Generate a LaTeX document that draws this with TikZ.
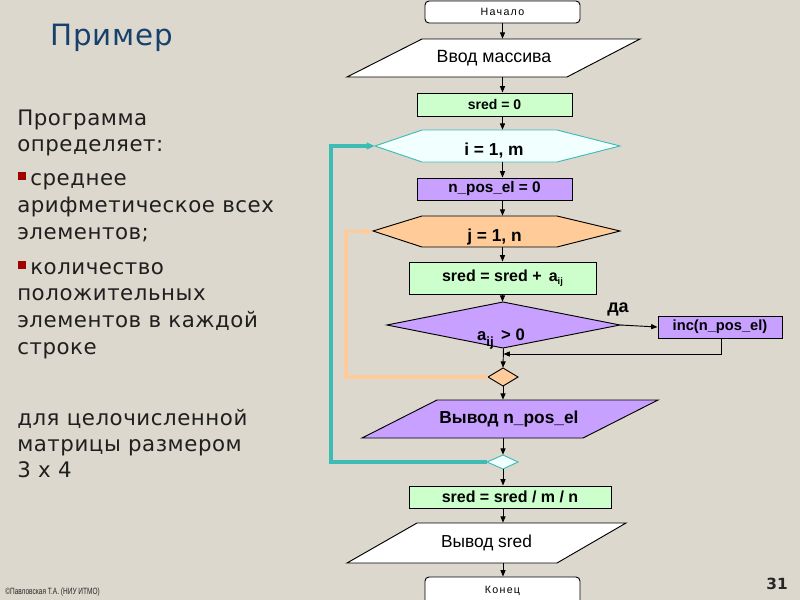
\documentclass[tikz,border=0pt]{standalone}
\usepackage{fontspec}
\setmainfont{DejaVu Sans}
\newfontfamily\bodyfont[LetterSpace=2.5]{DejaVu Sans}
\newfontfamily\titlefont[LetterSpace=3]{DejaVu Sans}
\newfontfamily\arial{Liberation Sans}
\newfontfamily\arialsp[LetterSpace=12]{Liberation Sans}
\usetikzlibrary{arrows.meta,calc}
\definecolor{paper}{HTML}{DDD8CD}
\definecolor{titleblue}{HTML}{17406D}
\definecolor{bulletred}{HTML}{A00000}
\definecolor{flgreen}{HTML}{CCFFCC}
\definecolor{flpurple}{HTML}{C8A0FF}
\definecolor{florange}{HTML}{FFCC99}
\definecolor{flcyan}{HTML}{3CBCB4}
\definecolor{flcyanfill}{HTML}{F2FFFF}
\pgfdeclarelayer{back}
\pgfdeclarelayer{shapes}
\pgfsetlayers{back,shapes,main}
\tikzset{
  body/.style={anchor=base west, inner sep=0, font=\bodyfont\fontsize{16}{19}\selectfont, text=black!88},
  boxnode/.style={draw=black, line width=0.7pt, inner sep=0, font=\arial\bfseries},
  termnode/.style={draw=black, line width=0.7pt, fill=white, rounded corners=3pt, inner sep=0, font=\arialsp\fontsize{8}{9}\selectfont},
  txtnode/.style={inner sep=0, font=\arial\bfseries},
  shapeline/.style={draw=black, line width=0.7pt},
  arr/.style={draw=black, line width=0.7pt, -{Triangle[length=4.8pt,width=3.8pt]}},
  loopc/.style={draw=flcyan, line width=2.3pt, -{Triangle[length=6pt,width=5pt]}},
  loopo/.style={draw=florange, line width=2.3pt, -{Triangle[length=6pt,width=5pt]}},
}
\begin{document}
\begin{tikzpicture}[x=0.75pt,y=-0.75pt]
\begin{pgfonlayer}{back}
\fill[paper] (0,0) rectangle (800,600);
\end{pgfonlayer}
\useasboundingbox (0,0) rectangle (800,600);

% ---------- left text ----------
\node[anchor=base west, inner sep=0, font=\titlefont\fontsize{22}{25}\selectfont, text=titleblue] (title) at (50,45) {Пример};
\node[body] (l1) at (17,125) {Программа};
\node[body] (l2) at (17,151) {определяет:};
\fill[bulletred] (18,172) rectangle (26,180);
\node[body] (l3) at (30,185) {среднее};
\node[body] (l4) at (17,212) {арифметическое всех};
\node[body] (l5) at (17,239) {элементов;};
\fill[bulletred] (18,261) rectangle (26,269);
\node[body] (l6) at (30,274) {количество};
\node[body] (l7) at (17,300) {положительных};
\node[body] (l8) at (17,327) {элементов в каждой};
\node[body] (l9) at (17,354) {строке};
\node[body] (l10) at (17,425) {для целочисленной};
\node[body] (l11) at (17,451) {матрицы размером};
\node[body] (l12) at (17,477) {3 х 4};

\node[anchor=base west, inner sep=0, font=\arial\fontsize{6.8}{8}\selectfont, text=black!85] (copy) at (5,594) {\scalebox{0.72}[1]{©Павловская Т.А. (НИУ ИТМО)}};
\node[inner sep=0, font=\bfseries\fontsize{11.5}{12}\selectfont, text=black!85] (pnum) at (777,584) {31};

% ---------- flowchart ----------
\coordinate (col) at (502.5,0);

\node[termnode, minimum width=155*0.75pt, minimum height=22*0.75pt] (start) at (502.5,12) {Начало};

\begin{pgfonlayer}{shapes}
\filldraw[shapeline, fill=white] (347,77) -- (422,39) -- (640,39) -- (567,77) -- cycle;
\filldraw[draw=flcyan, line width=0.7pt, fill=flcyanfill] (375,146) -- (422,130) -- (557,130) -- (620,146) -- (557,162) -- (422,162) -- cycle;
\filldraw[shapeline, fill=florange] (373,231) -- (422,216) -- (557,216) -- (620,231) -- (557,247) -- (422,247) -- cycle;
\filldraw[shapeline, fill=flpurple] (387,325) -- (503,302) -- (620,325) -- (503,348) -- cycle;
\filldraw[shapeline, fill=florange] (488,377) -- (503,368) -- (518,377) -- (503,386) -- cycle;
\filldraw[shapeline, fill=flpurple] (362,438) -- (437,400) -- (658,400) -- (583,438) -- cycle;
\filldraw[draw=flcyan, line width=0.7pt, fill=flcyanfill] (487,462) -- (503,455) -- (518,462) -- (503,469) -- cycle;
\filldraw[shapeline, fill=white] (347,563) -- (417,523) -- (626,523) -- (557,563) -- cycle;
\end{pgfonlayer}

\node[inner sep=0, minimum width=200*0.75pt, minimum height=38*0.75pt, font=\arial\fontsize{13.3}{15}\selectfont] (input) at (494,58) {Ввод массива};
\node[boxnode, fill=flgreen, minimum width=155*0.75pt, minimum height=23*0.75pt, font=\arial\bfseries\fontsize{10.5}{12}\selectfont] (sred0) at (494.5,104.5) {sred = 0};
\node[inner sep=0, minimum width=245*0.75pt, minimum height=32*0.75pt] (loopi) at (497.5,146) {};
\node[txtnode, font=\arial\bfseries\fontsize{13}{15}\selectfont] (loopitxt) at (494,151) {i = 1, m};
\node[boxnode, fill=flpurple, minimum width=155*0.75pt, minimum height=22*0.75pt, font=\arial\bfseries\fontsize{11.5}{13}\selectfont] (npos) at (494.5,189) {n\_pos\_el = 0};
\node[inner sep=0, minimum width=247*0.75pt, minimum height=31*0.75pt] (loopj) at (496.5,231.5) {};
\node[txtnode, font=\arial\bfseries\fontsize{13}{15}\selectfont] (loopjtxt) at (494.5,237) {j = 1, n};
\node[boxnode, fill=flgreen, minimum width=187*0.75pt, minimum height=32*0.75pt, font=\arial\bfseries\fontsize{12}{14}\selectfont] (sum) at (502.5,278) {sred = sred +\, a\raisebox{-2.5pt}{\fontsize{7}{8}\selectfont ij}};
\node[inner sep=0, minimum width=233*0.75pt, minimum height=46*0.75pt] (dec) at (503.5,325) {};
\node[txtnode, font=\arial\bfseries\fontsize{12.5}{14}\selectfont] (dectxt) at (501,339) {a\raisebox{-4pt}{\fontsize{10}{11}\selectfont ij}\, > 0};
\node[txtnode, anchor=base west, font=\arial\bfseries\fontsize{13.5}{15}\selectfont] (yes) at (607,312) {да};
\node[boxnode, fill=flpurple, minimum width=124*0.75pt, minimum height=22*0.75pt, font=\arial\bfseries\fontsize{11}{13}\selectfont] (inc) at (720,327) {inc(n\_pos\_el)};
\node[inner sep=0, minimum width=30*0.75pt, minimum height=18*0.75pt] (endj) at (503,377) {};
\node[txtnode, minimum width=200*0.75pt, minimum height=38*0.75pt, font=\arial\bfseries\fontsize{13}{15}\selectfont] (outn) at (509,419) {Вывод n\_pos\_el};
\node[inner sep=0, minimum width=31*0.75pt, minimum height=14*0.75pt] (endi) at (503,462) {};
\node[boxnode, fill=flgreen, minimum width=202*0.75pt, minimum height=22*0.75pt, font=\arial\bfseries\fontsize{12}{14}\selectfont] (div) at (510,497) {sred = sred / m / n};
\node[inner sep=0, minimum width=180*0.75pt, minimum height=40*0.75pt, font=\arial\fontsize{13}{15}\selectfont] (outs) at (486.5,543) {Вывод sred};
\node[termnode, minimum width=155*0.75pt, minimum height=28*0.75pt] (stop) at (502.5,591) {Конец};

% connectors
\draw[arr] (start.south -| col) -- (input.north -| col);
\draw[arr] (input.south -| col) -- (sred0.north -| col);
\draw[arr] (sred0.south -| col) -- (loopi.north -| col);
\draw[arr] (loopi.south -| col) -- (npos.north -| col);
\draw[arr] (npos.south -| col) -- (loopj.north -| col);
\draw[arr] (loopj.south -| col) -- (sum.north -| col);
\draw[arr] (sum.south -| col) -- (dec.north -| col);
\draw[arr] (dec.east) -- (inc.west);
\coordinate (incb) at (721,354);
\draw[arr] (inc.south -| incb) -- (incb) -- (incb -| dec.south);
\draw[arr] (dec.south) -- (endj.north);
\draw[arr] (endj.south) -- (outn.north -| endj.south);
\draw[arr] (outn.south -| endi.north) -- (endi.north);
\draw[arr] (endi.south) -- (div.north -| endi.south);
\draw[arr] (div.south -| endi.south) -- (outs.north -| endi.south);
\draw[arr] (outs.south -| endi.south) -- (stop.north -| endi.south);

\coordinate (oa) at (346,377);
\coordinate (ob) at (346,231.5);
\draw[loopo] (endj.west) -- (oa) -- (ob) -- (loopj.west);
\coordinate (ca) at (331,462);
\coordinate (cb) at (331,146);
\draw[loopc] (endi.west) -- (ca) -- (cb) -- (loopi.west);
\end{tikzpicture}
\end{document}
